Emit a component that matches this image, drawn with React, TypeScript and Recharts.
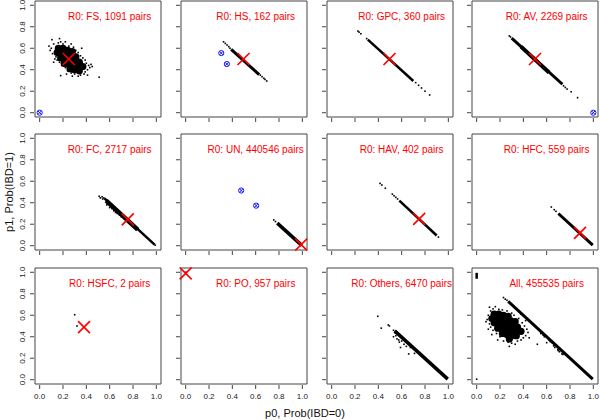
import {
  ScatterChart,
  Scatter,
  XAxis,
  YAxis,
  ReferenceArea,
  ReferenceDot,
} from "recharts";

type Pair = [number, number];

const TICKS = [0, 0.2, 0.4, 0.6, 0.8, 1.0];

const TITLES = [
  "R0: FS, 1091 pairs",
  "R0: HS, 162 pairs",
  "R0: GPC, 360 pairs",
  "R0: AV, 2269 pairs",
  "R0: FC, 2717 pairs",
  "R0: UN, 440546 pairs",
  "R0: HAV, 402 pairs",
  "R0: HFC, 559 pairs",
  "R0: HSFC, 2 pairs",
  "R0: PO, 957 pairs",
  "R0: Others, 6470 pairs",
  "All, 455535 pairs",
];

// FS
const fsCore: Pair[] = [
  [0.16, 0.6], [0.2, 0.6], [0.24, 0.58], [0.28, 0.57],
  [0.15, 0.56], [0.19, 0.55], [0.23, 0.54], [0.27, 0.53], [0.31, 0.52],
  [0.18, 0.51], [0.22, 0.5], [0.26, 0.49], [0.3, 0.48], [0.34, 0.47],
  [0.21, 0.46], [0.25, 0.45], [0.29, 0.44], [0.33, 0.43], [0.37, 0.43],
  [0.26, 0.41], [0.3, 0.4], [0.34, 0.39],
];
const fsDots: Pair[] = [
  [0.1, 0.6], [0.12, 0.64], [0.105, 0.68], [0.11, 0.55], [0.09, 0.58], [0.14, 0.52],
  [0.16, 0.65], [0.18, 0.66], [0.2, 0.64], [0.22, 0.66], [0.25, 0.62], [0.27, 0.64],
  [0.29, 0.61], [0.31, 0.58], [0.33, 0.56], [0.35, 0.53], [0.37, 0.51], [0.39, 0.49],
  [0.4, 0.46], [0.42, 0.44], [0.43, 0.42], [0.41, 0.4], [0.39, 0.38], [0.38, 0.36],
  [0.35, 0.35], [0.33, 0.34], [0.3, 0.36], [0.27, 0.37], [0.24, 0.39], [0.22, 0.42],
  [0.19, 0.44], [0.17, 0.47], [0.15, 0.49], [0.13, 0.5], [0.18, 0.345], [0.12, 0.47],
  [0.44, 0.45], [0.36, 0.6], [0.51, 0.33], [0.08, 0.62], [0.17, 0.69], [0.45, 0.43],
  [0.41, 0.35], [0.28, 0.34], [0.23, 0.36],
];
const fsMean: Pair[] = [[0.25, 0.5]];
const fsFlag: Pair[] = [[0, 0]];

// HS
const hsBand: Pair[] = [[0.39, 0.59], [0.63, 0.355]];
const hsDots: Pair[] = [
  [0.325, 0.66], [0.34, 0.645], [0.355, 0.63], [0.37, 0.615], [0.38, 0.6],
  [0.64, 0.35], [0.655, 0.335], [0.67, 0.32], [0.68, 0.31], [0.695, 0.295],
  [0.6, 0.39], [0.58, 0.41],
];
const hsMean: Pair[] = [[0.496, 0.5]];
const hsFlag: Pair[] = [[0.305, 0.555], [0.353, 0.453]];

// GPC
const gpcBand: Pair[] = [[0.31, 0.68], [0.7, 0.295]];
const gpcDots: Pair[] = [
  [0.225, 0.76], [0.235, 0.75], [0.25, 0.735], [0.3, 0.69],
  [0.72, 0.28], [0.745, 0.255], [0.77, 0.23], [0.8, 0.2], [0.84, 0.165],
];
const gpcMean: Pair[] = [[0.496, 0.5]];

// AV
const avBand: Pair[] = [[0.3, 0.695], [0.735, 0.265]];
const avBandMid: Pair[] = [[0.38, 0.615], [0.62, 0.375]];
const avDots: Pair[] = [
  [0.28, 0.715], [0.29, 0.705], [0.745, 0.25], [0.76, 0.235],
  [0.775, 0.22], [0.81, 0.195], [0.865, 0.14],
];
const avMean: Pair[] = [[0.5, 0.5]];
const avFlag: Pair[] = [[1.0, 0.0]];

// FC
const fcBandMid: Pair[] = [[0.57, 0.42], [0.84, 0.15]];
const fcBand: Pair[] = [[0.555, 0.44], [0.985, 0.01]];
const fcDots: Pair[] = [
  [0.51, 0.46], [0.52, 0.445], [0.535, 0.455], [0.54, 0.435], [0.55, 0.445],
  [0.575, 0.38], [0.6, 0.355], [0.62, 0.345], [0.635, 0.325], [0.65, 0.31],
  [0.665, 0.3], [0.685, 0.285], [0.61, 0.37], [0.7, 0.27], [0.99, 0.005],
];
const fcMean: Pair[] = [[0.755, 0.245]];

// UN
const unBand: Pair[] = [[0.785, 0.21], [0.995, 0.003]];
const unDots: Pair[] = [[0.755, 0.24], [0.77, 0.225]];
const unMean: Pair[] = [[0.99, 0.01]];
const unFlag: Pair[] = [[0.476, 0.514], [0.604, 0.373]];

// HAV
const havBand: Pair[] = [[0.58, 0.42], [0.9, 0.095]];
const havDots: Pair[] = [
  [0.415, 0.58], [0.43, 0.565], [0.46, 0.535], [0.52, 0.48],
  [0.535, 0.465], [0.55, 0.45], [0.565, 0.435], [0.915, 0.08],
];
const havMean: Pair[] = [[0.75, 0.25]];

// HFC
const hfcBand: Pair[] = [[0.7, 0.3], [0.995, 0.005]];
const hfcDots: Pair[] = [[0.64, 0.36], [0.665, 0.335], [0.68, 0.32]];
const hfcMean: Pair[] = [[0.886, 0.12]];

// HSFC
const hsfcDots: Pair[] = [[0.3, 0.605], [0.32, 0.5]];
const hsfcMean: Pair[] = [[0.38, 0.49]];

// PO
const poDots: Pair[] = [[0.0, 1.0], [0.005, 0.995]];
const poMean: Pair[] = [[0.0, 0.99]];

// Others
const othBand: Pair[] = [[0.54, 0.455], [0.995, 0.005]];
const othDots: Pair[] = [
  [0.395, 0.59], [0.425, 0.48], [0.485, 0.51], [0.495, 0.5], [0.53, 0.46],
  [0.53, 0.4], [0.55, 0.41], [0.56, 0.38], [0.575, 0.37], [0.58, 0.35],
  [0.59, 0.3], [0.6, 0.36], [0.62, 0.33], [0.64, 0.31], [0.66, 0.24],
  [0.675, 0.3], [0.71, 0.245], [0.545, 0.435],
];

// All
const allBand: Pair[] = [[0.27, 0.73], [0.995, 0.005]];
const allBar: Pair[] = [[0.0, 0.94], [0.0, 0.995]];
const allCore: Pair[] = [
  [0.15, 0.61], [0.19, 0.61], [0.23, 0.6], [0.27, 0.59],
  [0.13, 0.57], [0.17, 0.57], [0.21, 0.56], [0.25, 0.55], [0.29, 0.55], [0.33, 0.54],
  [0.15, 0.53], [0.19, 0.52], [0.23, 0.51], [0.27, 0.51], [0.31, 0.5], [0.35, 0.49],
  [0.18, 0.48], [0.22, 0.47], [0.26, 0.46], [0.3, 0.46], [0.34, 0.45], [0.38, 0.45],
  [0.22, 0.43], [0.26, 0.42], [0.3, 0.41], [0.34, 0.41], [0.28, 0.38],
];
const allDots: Pair[] = [
  [0.1, 0.6], [0.09, 0.56], [0.11, 0.52], [0.12, 0.64], [0.14, 0.66], [0.11, 0.675],
  [0.19, 0.655], [0.22, 0.65], [0.26, 0.64], [0.3, 0.62], [0.32, 0.6], [0.36, 0.57],
  [0.39, 0.53], [0.41, 0.5], [0.43, 0.47], [0.44, 0.44], [0.42, 0.41], [0.4, 0.39],
  [0.38, 0.37], [0.35, 0.36], [0.33, 0.33], [0.3, 0.34], [0.27, 0.35], [0.28, 0.31],
  [0.23, 0.36], [0.2, 0.4], [0.17, 0.43], [0.14, 0.46], [0.12, 0.49], [0.1, 0.47],
  [0.42, 0.55], [0.38, 0.61], [0.45, 0.39], [0.08, 0.54], [0.16, 0.68], [0.13, 0.42],
  [0.18, 0.37], [0.23, 0.765], [0.245, 0.75], [0.26, 0.74],
  [0.52, 0.33], [0.57, 0.415], [0.62, 0.37], [0.66, 0.315], [0.695, 0.28],
  [0.73, 0.24], [0.6, 0.345], [0.65, 0.34], [0.58, 0.4], [0.63, 0.355],
  [0.67, 0.3], [0.71, 0.26], [0.55, 0.43], [0.74, 0.235], [0.7, 0.27], [0.0, 0.005],
];

type Band = { pts: Pair[]; w: number };
type Panel = {
  title: string;
  bands: Band[];
  core: Pair[];
  dots: Pair[];
  flags: Pair[];
  mean: Pair[];
};

const PANELS: Panel[] = [
  { title: TITLES[0], bands: [], core: fsCore, dots: fsDots, flags: fsFlag, mean: fsMean },
  { title: TITLES[1], bands: [{ pts: hsBand, w: 3 }], core: [], dots: hsDots, flags: hsFlag, mean: hsMean },
  { title: TITLES[2], bands: [{ pts: gpcBand, w: 2.5 }], core: [], dots: gpcDots, flags: [], mean: gpcMean },
  { title: TITLES[3], bands: [{ pts: avBand, w: 3 }, { pts: avBandMid, w: 4 }], core: [], dots: avDots, flags: avFlag, mean: avMean },
  { title: TITLES[4], bands: [{ pts: fcBand, w: 2.5 }, { pts: fcBandMid, w: 4.5 }], core: [], dots: fcDots, flags: [], mean: fcMean },
  { title: TITLES[5], bands: [{ pts: unBand, w: 3.5 }], core: [], dots: unDots, flags: unFlag, mean: unMean },
  { title: TITLES[6], bands: [{ pts: havBand, w: 2.5 }], core: [], dots: havDots, flags: [], mean: havMean },
  { title: TITLES[7], bands: [{ pts: hfcBand, w: 3 }], core: [], dots: hfcDots, flags: [], mean: hfcMean },
  { title: TITLES[8], bands: [], core: [], dots: hsfcDots, flags: [], mean: hsfcMean },
  { title: TITLES[9], bands: [], core: [], dots: poDots, flags: [], mean: poMean },
  { title: TITLES[10], bands: [{ pts: othBand, w: 3.5 }], core: [], dots: othDots, flags: [], mean: [] },
  { title: TITLES[11], bands: [{ pts: allBand, w: 3 }, { pts: allBar, w: 2.5 }], core: allCore, dots: allDots, flags: [], mean: [] },
];

const COL_LEFT = [35, 181, 327, 472];
const ROW_TOP = [1, 134, 268];
const BOX_W = 126;
const BOX_H = 116;
const Y_AXIS_W = 35;
const X_AXIS_H = 30;
const DOMAIN: [number, number] = [-0.04, 1.04];
const FONT = "'Liberation Sans', Arial, Helvetica, sans-serif";
const LINE = "#444";
const RED = "#ff0000";
const BLUE = "#1414ff";

const toPts = (a: Pair[]) => a.map(([x, y]) => ({ x, y }));

const XTick = (props: any) => {
  const { x, y, payload, showLabel } = props;
  return (
    <g>
      <line x1={x} x2={x} y1={y + 1} y2={y + 5} stroke={LINE} />
      {showLabel && (
        <text x={x} y={y + 15} textAnchor="middle" fontSize={8} fill="#222" fontFamily={FONT}>
          {Number(payload.value).toFixed(1)}
        </text>
      )}
    </g>
  );
};

const YTick = (props: any) => {
  const { x, y, payload, showLabel } = props;
  const tx = x - 10;
  return (
    <g>
      <line x1={x - 1} x2={x - 5} y1={y} y2={y} stroke={LINE} />
      {showLabel && (
        <text
          x={tx}
          y={y}
          transform={`rotate(-90 ${tx} ${y})`}
          textAnchor="middle"
          fontSize={8}
          fill="#222"
          fontFamily={FONT}
        >
          {Number(payload.value).toFixed(1)}
        </text>
      )}
    </g>
  );
};

const noShape = () => <g />;
const smallDot = (p: any) => (
  <rect x={p.cx - 0.8} y={p.cy - 0.8} width={1.6} height={1.6} fill="#000" />
);
const coreDot = (p: any) => <circle cx={p.cx} cy={p.cy} r={3.6} fill="#000" />;
const meanMark = (p: any) => (
  <g stroke={RED} strokeWidth={1.6}>
    <line x1={p.cx - 6} y1={p.cy - 6} x2={p.cx + 6} y2={p.cy + 6} />
    <line x1={p.cx - 6} y1={p.cy + 6} x2={p.cx + 6} y2={p.cy - 6} />
  </g>
);
const flagMark = (p: any) => (
  <g stroke={BLUE} fill="none" strokeWidth={1}>
    <circle cx={p.cx} cy={p.cy} r={2.6} />
    <line x1={p.cx - 1.8} y1={p.cy - 1.8} x2={p.cx + 1.8} y2={p.cy + 1.8} />
    <line x1={p.cx - 1.8} y1={p.cy + 1.8} x2={p.cx + 1.8} y2={p.cy - 1.8} />
  </g>
);

function PanelChart({ panel, row, col }: { panel: Panel; row: number; col: number }) {
  const left = COL_LEFT[col] - Y_AXIS_W;
  const top = ROW_TOP[row] - 1;
  return (
    <div style={{ position: "absolute", left, top }}>
      <ScatterChart
        width={Y_AXIS_W + BOX_W + 2}
        height={1 + BOX_H + X_AXIS_H}
        margin={{ top: 1, right: 2, bottom: 0, left: 0 }}
      >
        <XAxis
          type="number"
          dataKey="x"
          domain={DOMAIN}
          ticks={TICKS}
          interval={0}
          axisLine={false}
          tickLine={false}
          tickSize={0}
          tickMargin={0}
          height={X_AXIS_H}
          tick={(p: any) => <XTick {...p} showLabel={row === 2} />}
        />
        <YAxis
          type="number"
          dataKey="y"
          domain={DOMAIN}
          ticks={TICKS}
          interval={0}
          axisLine={false}
          tickLine={false}
          tickSize={0}
          tickMargin={0}
          width={Y_AXIS_W}
          tick={(p: any) => <YTick {...p} showLabel={col === 0} />}
        />
        <ReferenceArea
          x1={DOMAIN[0]}
          x2={DOMAIN[1]}
          y1={DOMAIN[0]}
          y2={DOMAIN[1]}
          fill="none"
          stroke={LINE}
          strokeWidth={1}
          fillOpacity={0}
        />
        {panel.bands.map((b, i) => (
          <Scatter
            key={`b${i}`}
            data={toPts(b.pts)}
            fill="#000"
            line={{ stroke: "#000", strokeWidth: b.w }}
            shape={noShape}
            isAnimationActive={false}
          />
        ))}
        <Scatter data={toPts(panel.core)} shape={coreDot} isAnimationActive={false} />
        <Scatter data={toPts(panel.dots)} shape={smallDot} isAnimationActive={false} />
        <Scatter data={toPts(panel.flags)} shape={flagMark} isAnimationActive={false} />
        <Scatter data={toPts(panel.mean)} shape={meanMark} isAnimationActive={false} />
        <ReferenceDot
          x={0.6}
          y={0.9}
          r={0}
          shape={(p: any) => (
            <text
              x={p.cx}
              y={p.cy + 3.5}
              textAnchor="middle"
              fontSize={10}
              fill={RED}
              fontFamily={FONT}
            >
              {panel.title}
            </text>
          )}
        />
      </ScatterChart>
    </div>
  );
}

export default function App() {
  return (
    <div
      style={{
        position: "absolute",
        left: 0,
        top: 0,
        width: 600,
        height: 420,
        background: "#fff",
        fontFamily: FONT,
      }}
    >
      <svg width={600} height={420} style={{ position: "absolute", left: 0, top: 0 }}>
        <text x={305} y={417} textAnchor="middle" fontSize={11} fill="#111" fontFamily={FONT}>
          p0, Prob(IBD=0)
        </text>
        <text
          x={13}
          y={192}
          transform="rotate(-90 13 192)"
          textAnchor="middle"
          fontSize={11}
          fill="#111"
          fontFamily={FONT}
        >
          p1, Prob(IBD=1)
        </text>
      </svg>
      {PANELS.map((panel, i) => (
        <PanelChart key={i} panel={panel} row={Math.floor(i / 4)} col={i % 4} />
      ))}
    </div>
  );
}
